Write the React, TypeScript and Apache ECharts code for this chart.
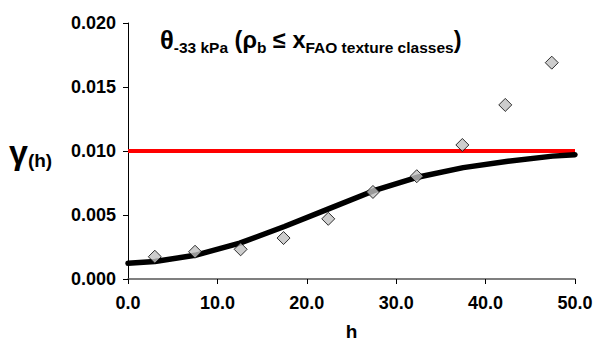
import React, { useEffect, useRef } from "react";
import * as echarts from "echarts";

const obsH = [3.0, 7.5, 12.6, 17.4, 22.4, 27.4, 32.3, 37.4, 42.2, 47.4];
const obsGamma = [0.00174, 0.00213, 0.00232, 0.0032, 0.0047, 0.0068, 0.00803, 0.01047, 0.0136, 0.0169];
const fitH = [0, 3, 7.5, 12.5, 17.5, 22.5, 27.5, 32.5, 37.5, 42.5, 47.5, 50];
const fitGamma = [0.00123, 0.00137, 0.00185, 0.0028, 0.0041, 0.0055, 0.0069, 0.00797, 0.0087, 0.0092, 0.0096, 0.00971];
const limitH = [0, 50];
const limitGamma = [0.01, 0.01];
const xTicks = { min: 0, max: 50, interval: 10 };
const yTicks = { min: 0, max: 0.02, interval: 0.005 };

const FONT = "'Liberation Sans', Arial, sans-serif";

export default function App() {
  const ref = useRef<HTMLDivElement>(null);
  useEffect(() => {
    if (!ref.current) return;
    const chart = echarts.init(ref.current, null, { renderer: "svg" });
    chart.setOption({
      animation: false,
      backgroundColor: "#ffffff",
      textStyle: { fontFamily: FONT },
      grid: { left: 128, right: 19, top: 23, bottom: 62, containLabel: false, outerBoundsMode: "none" },
      xAxis: {
        type: "value",
        min: xTicks.min,
        max: xTicks.max,
        interval: xTicks.interval,
        name: "h",
        nameLocation: "middle",
        nameGap: 44,
        nameTextStyle: { fontFamily: FONT, fontWeight: "bold", fontSize: 19, lineHeight: 16, color: "#000" },
        axisLine: { lineStyle: { color: "#555", width: 1.5 } },
        axisTick: { inside: false, length: 5, lineStyle: { color: "#000" } },
        splitLine: { show: false },
        axisLabel: {
          margin: 15,
          fontFamily: FONT,
          fontWeight: "bold",
          fontSize: 18,
          color: "#000",
          formatter: (v: number) => v.toFixed(1),
        },
      },
      yAxis: {
        type: "value",
        min: yTicks.min,
        max: yTicks.max,
        interval: yTicks.interval,
        axisLine: { show: true, lineStyle: { color: "#000", width: 1 } },
        axisTick: { show: true, inside: false, length: 5, lineStyle: { color: "#000" } },
        splitLine: { show: false },
        axisLabel: {
          margin: 12,
          fontFamily: FONT,
          fontWeight: "bold",
          fontSize: 18,
          color: "#000",
          formatter: (v: number) => v.toFixed(3),
        },
      },
      graphic: [
        {
          type: "text",
          left: 160,
          top: 27,
          style: {
            text: "{t|θ}{s|-33 kPa}{m| (ρ}{s|b}{m| ≤ x}{s|FAO texture classes}{m|)}",
            rich: {
              t: { fontFamily: FONT, fontWeight: "bold", fontSize: 25.5, lineHeight: 30, verticalAlign: "middle", fill: "#000" },
              m: { fontFamily: FONT, fontWeight: "bold", fontSize: 23.5, lineHeight: 30, verticalAlign: "middle", fill: "#000" },
              s: { fontFamily: FONT, fontWeight: "bold", fontSize: 15.5, lineHeight: 17, verticalAlign: "bottom", fill: "#000" },
            },
          },
        },
        {
          type: "text",
          left: 9,
          top: 135,
          style: {
            text: "{g|γ}{s|(h)}",
            rich: {
              g: { fontFamily: FONT, fontWeight: "bold", fontSize: 34, lineHeight: 36, verticalAlign: "middle", fill: "#000" },
              s: { fontFamily: FONT, fontWeight: "bold", fontSize: 19, lineHeight: 23, verticalAlign: "bottom", fill: "#000" },
            },
          },
        },
      ],
      series: [
        {
          type: "line",
          data: limitH.map((h, i) => [h, limitGamma[i]]),
          showSymbol: false,
          symbol: "none",
          lineStyle: { color: "#ff0000", width: 4 },
          z: 2,
        },
        {
          type: "line",
          data: fitH.map((h, i) => [h, fitGamma[i]]),
          showSymbol: false,
          symbol: "none",
          lineStyle: { color: "#000000", width: 5.5, cap: "round", join: "round" },
          z: 3,
        },
        {
          type: "scatter",
          data: obsH.map((h, i) => [h, obsGamma[i]]),
          symbol: "diamond",
          symbolSize: [13, 13],
          itemStyle: { color: "#c0c0c0", borderColor: "#000", borderWidth: 1 },
          z: 4,
        },
      ],
    });
    return () => chart.dispose();
  }, []);
  return <div ref={ref} style={{ position: "fixed", left: 0, top: 0, width: 594, height: 341 }} />;
}
